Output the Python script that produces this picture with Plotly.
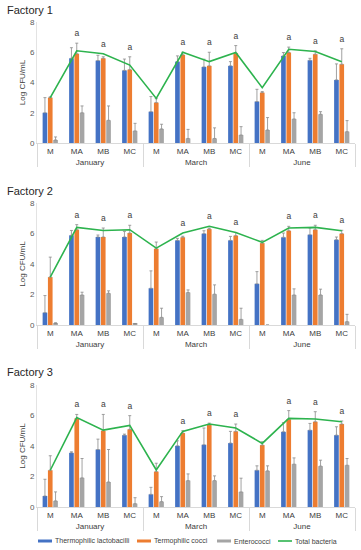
import plotly.graph_objects as go

months = ["January"] * 4 + ["March"] * 4 + ["June"] * 4
samples = ["M", "MA", "MB", "MC"] * 3
letters = ["", "a", "a", "a"] * 3

factories = ["Factory 1", "Factory 2", "Factory 3"]
series_names = ["Thermophilic lactobacilli", "Termophilic cocci", "Enterococci", "Total bacteria"]

# Factory 1
f1_lacto = [2.0, 5.6, 5.45, 4.8, 2.07, 5.38, 5.03, 5.1, 2.74, 5.76, 5.47, 4.17]
f1_lacto_err = [1.0, 0.7, 0.35, 0.75, 1.0, 0.38, 0.51, 0.28, 0.81, 0.22, 0.13, 1.06]
f1_cocci = [3.0, 5.9, 5.6, 4.85, 2.67, 5.83, 5.1, 5.94, 3.33, 5.98, 5.87, 5.21]
f1_cocci_err = [0.05, 0.7, 0.1, 0.85, 0.26, 0.17, 0.9, 0.5, 0.07, 0.36, 0.22, 1.02]
f1_entero = [0.2, 2.0, 1.5, 0.8, 0.93, 0.3, 0.3, 0.53, 0.86, 1.59, 1.9, 0.75]
f1_entero_err = [0.2, 0.45, 0.95, 0.5, 0.31, 0.6, 0.7, 0.55, 0.82, 0.41, 0.17, 0.73]
f1_total = [3.0, 6.1, 5.9, 5.15, 2.95, 6.0, 5.38, 5.98, 3.66, 6.2, 6.05, 5.38]

# Factory 2
f2_lacto = [0.81, 5.88, 5.77, 5.77, 2.41, 5.55, 5.99, 5.55, 2.7, 5.75, 5.92, 5.59]
f2_lacto_err = [1.12, 0.32, 0.13, 0.37, 1.14, 0.13, 0.19, 0.26, 0.8, 0.28, 0.44, 0.18]
f2_cocci = [3.14, 6.25, 5.77, 6.03, 5.0, 5.75, 6.29, 5.86, 5.37, 6.18, 6.25, 5.99]
f2_cocci_err = [1.31, 0.33, 0.59, 0.51, 0.44, 0.07, 0.06, 0.21, 0.18, 0.29, 0.29, 0.22]
f2_entero = [0.1, 1.97, 2.08, 0.07, 0.5, 2.13, 2.02, 0.37, 0.0, 1.97, 1.97, 0.22]
f2_entero_err = [0.05, 0.18, 0.16, 0.03, 0.6, 0.17, 0.61, 0.73, 0.0, 0.4, 0.38, 0.48]
f2_total = [3.14, 6.4, 6.2, 6.25, 5.04, 6.03, 6.47, 6.07, 5.42, 6.36, 6.4, 6.18]

# Factory 3
f3_lacto = [0.72, 3.55, 3.77, 4.71, 0.83, 4.01, 4.08, 4.19, 2.41, 4.93, 5.04, 4.71]
f3_lacto_err = [1.1, 0.07, 0.68, 0.07, 0.46, 0.33, 1.1, 0.77, 0.29, 0.6, 0.44, 0.55]
f3_cocci = [2.41, 5.81, 5.0, 5.09, 2.32, 4.85, 5.39, 4.96, 4.06, 5.75, 5.59, 5.44]
f3_cocci_err = [0.95, 0.26, 1.07, 0.9, 0.55, 0.15, 0.11, 0.48, 0.22, 0.57, 0.66, 0.2]
f3_entero = [0.4, 1.91, 1.64, 0.22, 0.35, 1.73, 1.73, 0.99, 2.37, 2.81, 2.68, 2.74]
f3_entero_err = [0.59, 1.27, 2.13, 0.39, 0.33, 0.44, 0.31, 0.9, 0.33, 0.41, 0.39, 0.44]
f3_total = [2.41, 5.86, 5.04, 5.35, 2.43, 4.96, 5.44, 5.18, 4.17, 5.81, 5.77, 5.59]

data = [
    (f1_lacto, f1_lacto_err, f1_cocci, f1_cocci_err, f1_entero, f1_entero_err, f1_total),
    (f2_lacto, f2_lacto_err, f2_cocci, f2_cocci_err, f2_entero, f2_entero_err, f2_total),
    (f3_lacto, f3_lacto_err, f3_cocci, f3_cocci_err, f3_entero, f3_entero_err, f3_total),
]

colors = ["#4472C4", "#ED7D31", "#A5A5A5", "#2DB34E"]
FONT = "Liberation Sans, Arial, sans-serif"
W, H = 361, 550
panels_px = [(22, 143), (203, 325), (385, 507)]
title_px = [10, 191, 372]
x_dom = [37 / W, 355 / W]

fig = go.Figure()
x = [months, samples]
for i, (la, lae, co, coe, en, ene, tot) in enumerate(data):
    ax = "" if i == 0 else str(i + 1)
    xa, ya = "x" + ax, "y" + ax
    for vals, errs, col, nm in [(la, lae, colors[0], series_names[0]),
                                (co, coe, colors[1], series_names[1]),
                                (en, ene, colors[2], series_names[2])]:
        fig.add_trace(go.Bar(
            x=x, y=vals, xaxis=xa, yaxis=ya, name=nm, showlegend=False,
            marker=dict(color=col, line=dict(width=0)),
            error_y=dict(type="data", array=errs, arrayminus=[0] * 12, symmetric=False,
                         color="#8a8a8a", thickness=0.8, width=1.5),
        ))
    fig.add_trace(go.Scatter(
        x=x, y=tot, xaxis=xa, yaxis=ya, mode="lines", name=series_names[3],
        showlegend=False, line=dict(color=colors[3], width=1.6),
    ))
    tops = [max(a + b, c + d, e + f, t) for a, b, c, d, e, f, t in zip(la, lae, co, coe, en, ene, tot)]
    fig.add_trace(go.Scatter(
        x=x, y=[tp + 0.6 for tp in tops], xaxis=xa, yaxis=ya, mode="text", text=letters,
        textfont=dict(size=8.5, color="#404040", family=FONT), showlegend=False,
        cliponaxis=False, hoverinfo="skip",
    ))
    top, bot = panels_px[i]
    fig.layout["xaxis" + ax] = dict(
        type="multicategory", domain=x_dom, anchor=ya, range=[-0.5, 11.5],
        showline=True, linecolor="#d9d9d9", linewidth=1,
        showdividers=True, dividercolor="#d9d9d9", dividerwidth=1,
        tickfont=dict(size=8, color="#404040", family=FONT),
        ticks="", showgrid=False, automargin=False,
    )
    fig.layout["yaxis" + ax] = dict(
        domain=[1 - bot / H, 1 - top / H], anchor=xa, range=[0, 8],
        tickvals=[0, 2, 4, 6, 8], showgrid=False, zeroline=False,
        showline=True, linecolor="#e3e3e3", linewidth=1,
        tickfont=dict(size=8, color="#595959", family=FONT),
        title=dict(text="Log CFU/mL", font=dict(size=8, color="#404040", family=FONT), standoff=3),
        automargin=False,
    )
    fig.add_annotation(
        text=factories[i], xref="paper", yref="paper", x=5 / W, y=1 - title_px[i] / H,
        xanchor="left", yanchor="middle", showarrow=False,
        font=dict(size=11, color="#262626", family=FONT),
    )

# manual legend row (line keys as in the original)
legend_y = 1 - 541 / H
legend_x_px = [38, 137, 217, 278]
for k, (col, nm) in enumerate(zip(colors, series_names)):
    x0 = legend_x_px[k]
    fig.add_shape(type="line", xref="paper", yref="paper",
                  x0=x0 / W, x1=(x0 + 14) / W, y0=legend_y, y1=legend_y,
                  line=dict(color=col, width=3 if k < 3 else 1.6))
    fig.add_annotation(text=nm, xref="paper", yref="paper", x=(x0 + 15) / W, y=legend_y,
                       xanchor="left", yanchor="middle", showarrow=False,
                       font=dict(size=7, color="#404040", family=FONT))

fig.update_layout(
    width=W, height=H, margin=dict(l=0, r=0, t=0, b=0),
    paper_bgcolor="white", plot_bgcolor="white",
    barmode="group", bargap=0.4, bargroupgap=0.12,
    showlegend=False,
    font=dict(family=FONT),
)

fig.write_html("out.html", config={"displayModeBar": False},
               post_script="document.body.style.margin='0';document.body.style.overflow='hidden';")
